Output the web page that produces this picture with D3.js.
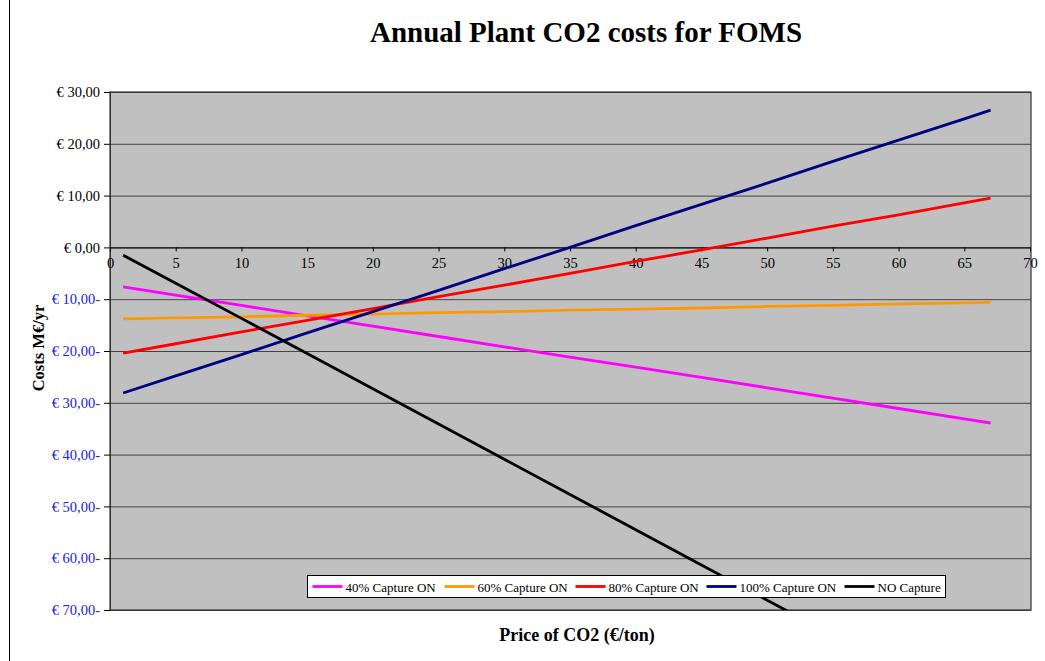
<!DOCTYPE html>
<html>
<head>
<meta charset="utf-8">
<script src="https://cdnjs.cloudflare.com/ajax/libs/d3/7.8.5/d3.min.js"></script>
<style>
  body { margin: 0; background: #fff; }
  svg { display: block; }
</style>
</head>
<body>
<svg id="chart" width="1045" height="661"></svg>
<script>
// data (price of CO2 in €/ton vs annual cost M€/yr)
var prices = [1, 5, 10, 15, 20, 25, 30, 35, 40, 45, 50, 55, 60, 65, 67];
var capture40 = [-7.6, -9.2, -11.2, -13.2, -15.2, -17.2, -19.2, -21.2, -23.1, -25.1, -27.1, -29.1, -31.1, -33.1, -33.9];
var capture60 = [-13.8, -13.6, -13.4, -13.1, -12.9, -12.6, -12.4, -12.1, -11.9, -11.7, -11.4, -11.2, -10.9, -10.7, -10.6];
var capture80 = [-20.4, -18.6, -16.3, -14.1, -11.8, -9.5, -7.3, -5.0, -2.7, -0.5, 1.8, 4.1, 6.3, 8.6, 9.5];
var capture100 = [-28.1, -24.8, -20.7, -16.5, -12.4, -8.3, -4.1, 0.0, 4.2, 8.3, 12.4, 16.6, 20.7, 24.8, 26.5];
var noCapture = [-1.5, -6.9, -13.7, -20.5, -27.3, -34.1, -40.9, -47.7, -54.5, -61.3, -68.1, -74.9, -81.7, -88.5, -91.3];
var seriesNames = ["40% Capture ON", "60% Capture ON", "80% Capture ON", "100% Capture ON", "NO Capture"];
var seriesColors = ["#ff00ff", "#ff9900", "#ff0000", "#000080", "#000000"];
var xTicks = [0, 5, 10, 15, 20, 25, 30, 35, 40, 45, 50, 55, 60, 65, 70];
var yTicks = [30, 20, 10, 0, -10, -20, -30, -40, -50, -60, -70];

var series = [capture40, capture60, capture80, capture100, noCapture].map(function(vals, i) {
  return { name: seriesNames[i], color: seriesColors[i],
           values: vals.map(function(v, j) { return { x: prices[j], y: v }; }) };
});

var svg = d3.select("#chart"),
    margin = {top: 92, right: 14, bottom: 51, left: 110},
    width = 1045 - margin.left - margin.right,
    height = 661 - margin.top - margin.bottom;

var serif = "'Liberation Serif', 'DejaVu Serif', serif";

// outer chart border
svg.append("rect")
    .attr("x", 9.5).attr("y", -5)
    .attr("width", 1045).attr("height", 700)
    .attr("fill", "none").attr("stroke", "#000").attr("stroke-width", 1);

svg.append("text")
    .attr("x", 586).attr("y", 42)
    .attr("text-anchor", "middle")
    .attr("font-family", serif).attr("font-weight", "bold")
    .attr("font-size", 29)
    .text("Annual Plant CO2 costs for FOMS");

var g = svg.append("g").attr("transform", "translate(" + margin.left + "," + margin.top + ")");

var x = d3.scaleLinear().domain([0, 70]).range([0, 920]);
var y = d3.scaleLinear().domain([-70, 30]).range([height, 0]);

g.append("rect")
    .attr("width", width).attr("height", height)
    .attr("fill", "#c0c0c0");

// gridlines
g.append("g")
    .call(d3.axisLeft(y).tickValues(yTicks).tickSize(-width).tickFormat(""))
    .call(function(a) {
      a.select(".domain").remove();
      a.selectAll(".tick line").attr("stroke", "#444").attr("stroke-width", 1);
    });

g.append("rect")
    .attr("width", width).attr("height", height)
    .attr("fill", "none").attr("stroke", "#333").attr("stroke-width", 1.2);

// y axis
g.append("g")
    .call(d3.axisLeft(y).tickValues(yTicks).tickSize(6).tickPadding(4)
      .tickFormat(function(d) {
        var s = "€ " + d3.format(".2f")(Math.abs(d)).replace(".", ",");
        return d < 0 ? s + "-" : s;
      }))
    .call(function(a) {
      a.select(".domain").attr("stroke", "#333");
      a.selectAll(".tick line").attr("stroke", "#000");
      a.selectAll(".tick text")
        .attr("font-family", serif).attr("font-size", 14.5)
        .attr("fill", function(d) { return d < 0 ? "#2020ee" : "#000"; });
    });

// x axis sits on zero
g.append("g")
    .attr("transform", "translate(0," + y(0) + ")")
    .call(d3.axisBottom(x).tickValues(xTicks).tickSize(4).tickPadding(6))
    .call(function(a) {
      a.select(".domain").attr("stroke", "#000");
      a.selectAll(".tick line").attr("stroke", "#000");
      a.selectAll(".tick text")
        .attr("font-family", serif).attr("font-size", 14.5).attr("fill", "#000");
    });

g.append("clipPath").attr("id", "plot-clip")
  .append("rect").attr("width", width).attr("height", height);

var line = d3.line()
    .x(function(d) { return x(d.x); })
    .y(function(d) { return y(d.y); });

g.append("g").attr("clip-path", "url(#plot-clip)")
  .selectAll("path")
  .data(series)
  .enter().append("path")
    .attr("fill", "none")
    .attr("stroke", function(d) { return d.color; })
    .attr("stroke-width", 2.8)
    .attr("stroke-linejoin", "round")
    .attr("d", function(d) { return line(d.values); });

// axis titles
svg.append("text")
    .attr("transform", "translate(44," + 348 + ") rotate(-90)")
    .attr("text-anchor", "middle")
    .attr("font-family", serif).attr("font-weight", "bold").attr("font-size", 16.5)
    .text("Costs M€/yr");

svg.append("text")
    .attr("x", 577).attr("y", 641)
    .attr("text-anchor", "middle")
    .attr("font-family", serif).attr("font-weight", "bold").attr("font-size", 18)
    .text("Price of CO2 (€/ton)");

// legend
var legend = svg.append("g").attr("transform", "translate(307.5,575.5)");
legend.append("rect")
    .attr("width", 638).attr("height", 22)
    .attr("fill", "#fff").attr("stroke", "#000").attr("stroke-width", 1);

var legendX = [5, 137, 268, 399, 537];
var item = legend.selectAll("g.item")
    .data(series)
  .enter().append("g")
    .attr("class", "item")
    .attr("transform", function(d, i) { return "translate(" + legendX[i] + ",11)"; });

item.append("line")
    .attr("x1", 0).attr("x2", 30)
    .attr("stroke", function(d) { return d.color; })
    .attr("stroke-width", 2.8);

item.append("text")
    .attr("x", 33).attr("y", 5)
    .attr("font-family", serif).attr("font-size", 13)
    .text(function(d) { return d.name; });
</script>
</body>
</html>
